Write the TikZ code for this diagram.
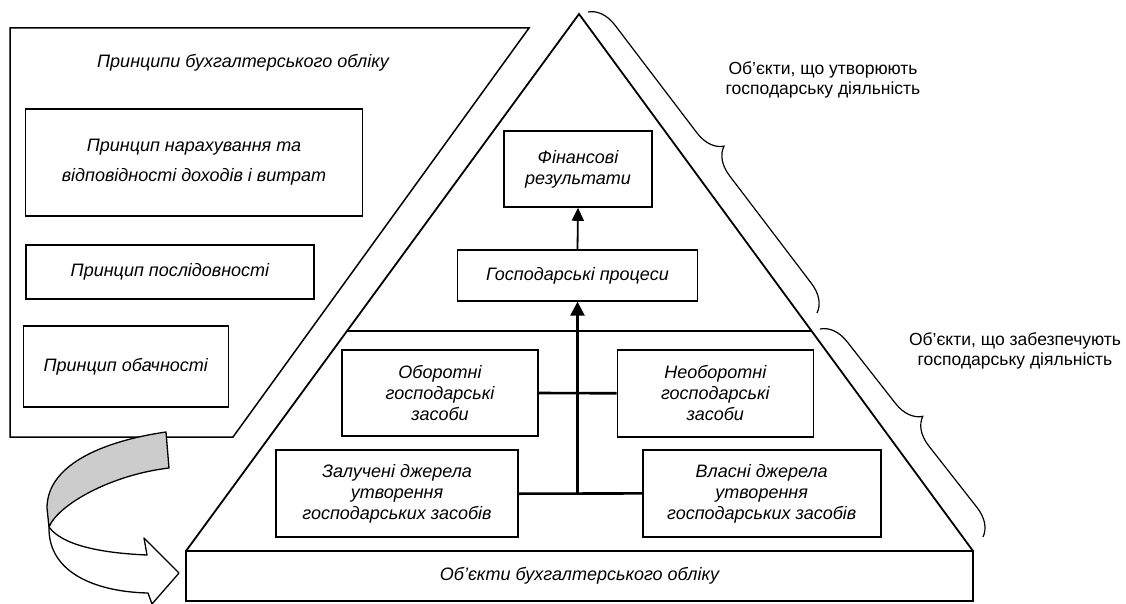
\documentclass[tikz,border=0pt]{standalone}
\usepackage{fontspec}
\setmainfont{Liberation Sans}
\usetikzlibrary{arrows.meta,decorations.pathreplacing,calc}
\definecolor{ribbongray}{RGB}{204,204,204}
\begin{document}
\begin{tikzpicture}[x=1pt,y=-1pt,
  every node/.style={inner sep=0pt},
  box/.style={draw,line width=1.6pt,align=center,font=\itshape\fontsize{18}{21}\selectfont},
  plain/.style={align=center,font=\itshape\fontsize{18}{21}\selectfont},
  lbl/.style={align=center,font=\fontsize{17.5}{19.5}\selectfont},
  frame/.style={line width=1.5pt,line join=miter},
  conn/.style={line width=2.6pt},
  brc/.style={decorate,decoration={brace,amplitude=27pt},line width=1.2pt},
  ribbon/.style={line width=1.3pt,line join=round}]
\useasboundingbox (0,0) rectangle (1126,604);

% left panel: principles
\draw[frame] (10,28) -- (529,28) -- (233,437) -- (10,437) -- cycle;
\node[plain] (ptitle) at (243,63) {Принципи бухгалтерського обліку};
\node[box,font=\itshape\fontsize{18}{30}\selectfont,minimum width=337pt,minimum height=107pt] (p1) at (194,162.5) {Принцип нарахування та\\відповідності доходів і витрат};
\node[box,minimum width=288pt,minimum height=54pt] (p2) at (170,272) {Принцип послідовності};
\node[box,minimum width=205pt,minimum height=81pt] (p3) at (125.8,366.5) {Принцип обачності};

% curved ribbon arrow
\draw[ribbon,fill=white] (49,527) .. controls (62,545) and (100,553) .. (147,555)
  -- (144,538) -- (179,573) -- (152,604) -- (148,593)
  .. controls (100,592) and (48,575) .. (49,527) -- cycle;
\draw[ribbon,fill=ribbongray] (166,432) .. controls (110,440) and (47,462) .. (47,508)
  -- (49,527) .. controls (58,505) and (110,475) .. (169,468) -- cycle;

% pyramid
\coordinate (tl) at (186,551);
\coordinate (apex) at (579,14);
\coordinate (tr) at (973,551);
\draw[frame,line width=1.8pt] (tl) -- (apex) -- (tr);
\draw[line width=1.5pt] ($(tl)!0.40968!(apex)$) -- ($(tr)!0.40968!(apex)$);
\node[box,minimum width=787pt,minimum height=50pt] (obj) at (579.5,576) {Об’єкти бухгалтерського обліку};

\node[box,minimum width=148pt,minimum height=76pt] (fin) at (578,169) {Фінансові\\результати};
\node[box,minimum width=240pt,minimum height=51pt] (gp) at (577.5,275.4) {Господарські процеси};
\node[box,minimum width=196pt,minimum height=86pt] (ob) at (440,393) {Оборотні\\господарські\\засоби};
\node[box,minimum width=196pt,minimum height=87pt] (nob) at (715.3,393.3) {Необоротні\\господарські\\засоби};
\node[box,minimum width=242pt,minimum height=87pt] (zal) at (397,493.7) {Залучені джерела\\утворення\\господарських засобів};
\node[box,minimum width=238pt,minimum height=87pt] (vl) at (761.7,493.4) {Власні джерела\\утворення\\господарських засобів};

% connectors
\coordinate (j) at (zal.east -| gp.south);
\draw[conn] (zal.east) -- (vl.west);
\draw[conn] (ob.east) -- (nob.west);
\draw[conn,-{Triangle[width=14pt,length=14pt]}] (j) -- (gp.south);
\draw[line width=1.8pt,-{Triangle[width=12pt,length=13pt]}] (gp.north) -- (fin.south);

% braces and their labels
\draw[brc] (588,12) -- (817,313);
\draw[brc] (820,329) -- (983,537);
\node[lbl] (l1) at (823,80) {Об’єкти, що утворюють\\господарську діяльність};
\node[lbl] (l2) at (1015,351) {Об’єкти, що забезпечують\\господарську діяльність};
\end{tikzpicture}
\end{document}
